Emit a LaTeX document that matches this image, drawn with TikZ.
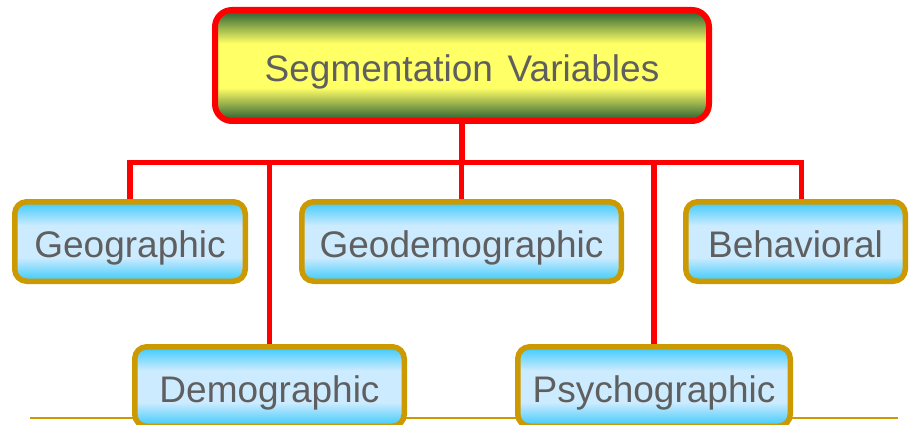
\documentclass[tikz,border=0pt]{standalone}
\usepackage{fontspec}
\setmainfont{Liberation Sans}
\usepackage{xcolor}
\usetikzlibrary{backgrounds}

\definecolor{linkred}{HTML}{FF0000}
\definecolor{boxgold}{HTML}{CC9900}
\definecolor{labelgray}{HTML}{5F5F5F}
\definecolor{darkleaf}{HTML}{336633}
\definecolor{lemon}{HTML}{FFFF66}
\definecolor{skycyan}{HTML}{44CCFA}
\definecolor{skylight}{HTML}{CDEBFF}

\pgfdeclareverticalshading{titleshade}{100bp}{color(0bp)=(darkleaf); color(26bp)=(darkleaf); color(40bp)=(lemon); color(60bp)=(lemon); color(74bp)=(darkleaf); color(100bp)=(darkleaf)}
\pgfdeclareverticalshading{varshade}{100bp}{color(0bp)=(skycyan); color(26bp)=(skycyan); color(40bp)=(skylight); color(60bp)=(skylight); color(74bp)=(skycyan); color(100bp)=(skycyan)}

\tikzset{
	titlebox/.style={draw=linkred, line width=6pt, rounded corners=17pt, shade, shading=titleshade,
		minimum width=494pt, minimum height=111pt, inner sep=0pt, text=labelgray,
		text height=33pt, text depth=0pt, font=\fontsize{37}{44}\selectfont},
	varbox/.style={draw=boxgold, line width=5.5pt, rounded corners=12pt, shade, shading=varshade,
		minimum height=79.5pt, inner sep=0pt, text=labelgray,
		text height=31pt, text depth=0pt, font=\fontsize{37}{44}\selectfont},
	link/.style={draw=linkred, line width=5.5pt},
}

\begin{document}
\begin{tikzpicture}[x=1pt, y=-1pt]
	\useasboundingbox (0,0) rectangle (910,425);
	\node [titlebox] (seg) at (462,65.5) {Segmentation\hspace{0.4em}Variables};
	\node [varbox, minimum width=230.5pt] (geo) at (130,241.5) {Geographic};
	\node [varbox, minimum width=319.5pt] (geodemo) at (461.5,241.5) {Geodemographic};
	\node [varbox, minimum width=219.5pt] (beh) at (795.5,241.5) {Behavioral};
	\node [varbox, minimum width=269.5pt] (demo) at (269.5,386.5) {Demographic};
	\node [varbox, minimum width=272.5pt] (psy) at (654,386.5) {Psychographic};
	\coordinate (bus) at (462,162.5);
	\begin{scope}[on background layer]
		\draw [draw=boxgold, line width=2pt] (30,418) -- (898,418);
		\draw [link] (seg.south) -- (bus);
		\draw [link] (geo.north) -- (geo.north |- bus) -- ([xshift=6pt]beh.north |- bus) -- ([xshift=6pt]beh.north);
		\foreach \n in {geodemo, demo, psy}{
			\draw [link] (\n.north |- bus) -- (\n.north);
		}
	\end{scope}
\end{tikzpicture}
\end{document}
